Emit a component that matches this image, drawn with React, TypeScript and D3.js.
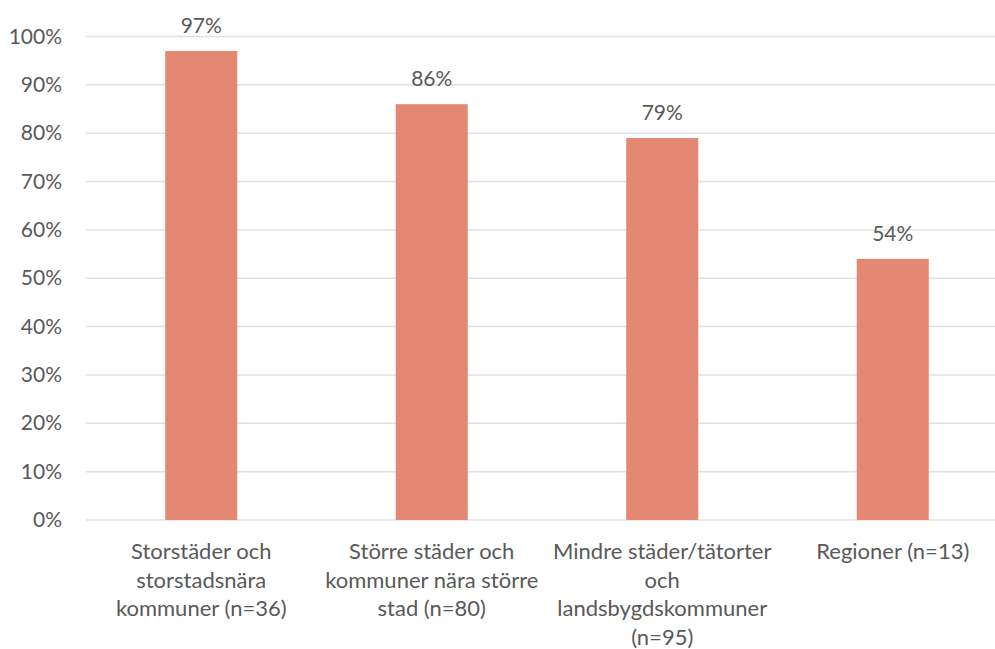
import React from "react";
import * as d3 from "d3";

const categories: string[][] = [
  ["Storstäder och", "storstadsnära", "kommuner (n=36)"],
  ["Större städer och", "kommuner nära större", "stad (n=80)"],
  ["Mindre städer/tätorter", "och", "landsbygdskommuner", "(n=95)"],
  ["Regioner (n=13)"],
];
const values: number[] = [0.97, 0.86, 0.79, 0.54];
const valueLabels: string[] = ["97%", "86%", "79%", "54%"];
const yTicks: number[] = [0, 0.1, 0.2, 0.3, 0.4, 0.5, 0.6, 0.7, 0.8, 0.9, 1.0];

const W = 995;
const H = 649;
const FONT = "Lato, 'Open Sans', sans-serif";
const TEXT = "#595959";

export default function App() {
  const x = d3
    .scaleBand<number>()
    .domain(values.map((_, i) => i))
    .range([86, 1008])
    .paddingInner(0.6875)
    .paddingOuter(0.34375);
  const y = d3.scaleLinear().domain([0, 1]).range([520, 36.5]);
  const fmt = d3.format(".0%");

  return (
    <svg
      width={W}
      height={H}
      style={{ position: "absolute", left: 0, top: 0, background: "#fff" }}
      fontFamily={FONT}
    >
      {yTicks.map((t) => (
        <g key={t}>
          <line x1={86} x2={W} y1={y(t)} y2={y(t)} stroke="#DFE3DC" strokeWidth={1.5} />
          <text x={62} y={y(t) + 7} textAnchor="end" fontSize={21} fill={TEXT}>
            {fmt(t)}
          </text>
        </g>
      ))}
      {values.map((v, i) => {
        const bx = x(i)!;
        const bw = x.bandwidth();
        const cx = bx + bw / 2;
        return (
          <g key={i}>
            <rect x={bx} y={y(v)} width={bw} height={y(0) - y(v)} fill="#E48873" />
            <text x={cx} y={y(v) - 18} textAnchor="middle" fontSize={21} fill={TEXT}>
              {valueLabels[i]}
            </text>
            {categories[i].map((line, j) => (
              <text
                key={j}
                x={cx}
                y={559 + j * 28.7}
                textAnchor="middle"
                fontSize={22}
                fill={TEXT}
              >
                {line}
              </text>
            ))}
          </g>
        );
      })}
    </svg>
  );
}
